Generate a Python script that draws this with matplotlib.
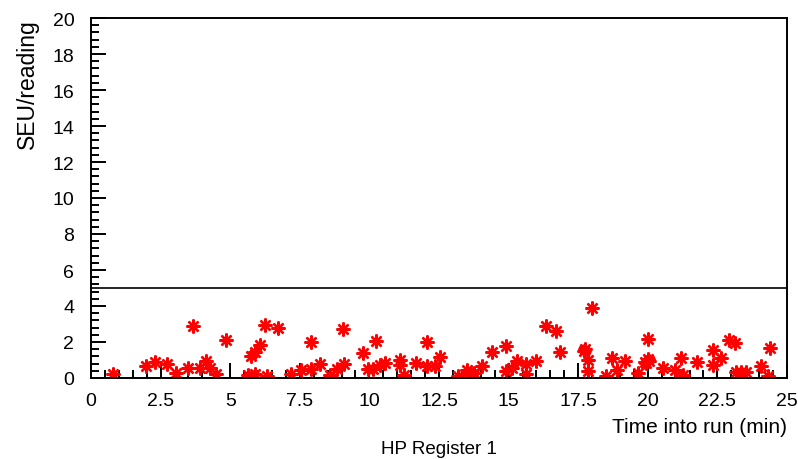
import numpy as np
import matplotlib.pyplot as plt
from matplotlib.ticker import MultipleLocator

plt.rcParams['font.family'] = ['Liberation Sans', 'DejaVu Sans']

# time of each reading (min) and SEU per reading
t_min = [0.78, 1.97, 2.31, 2.72, 3.05, 3.49, 3.65, 3.91, 4.12, 4.27, 4.48, 4.84,
         5.65, 5.73, 5.89, 5.89, 6.07, 6.25, 6.31, 6.70, 7.18, 7.54, 7.92, 7.92,
         8.22, 8.58, 8.82, 9.04, 9.08, 9.76, 9.96, 10.14, 10.23, 10.38, 10.57,
         11.10, 11.10, 11.24, 11.69, 12.08, 12.08, 12.35, 12.55, 13.19, 13.52,
         13.64, 13.76, 14.05, 14.42, 14.89, 14.89, 15.13, 15.31, 15.62, 15.64,
         16.00, 16.34, 16.70, 16.84, 17.71, 17.74, 17.86, 17.86, 17.98, 18.49,
         18.73, 18.91, 19.17, 19.65, 19.89, 20.01, 19.95, 20.05, 20.01, 20.53,
         20.97, 21.18, 21.27, 21.78, 22.35, 22.35, 22.62, 22.91, 23.15, 23.18,
         23.36, 23.54, 24.08, 24.32, 24.38]
seu = [0.22, 0.68, 0.87, 0.78, 0.28, 0.54, 2.90, 0.54, 0.96, 0.54, 0.22, 2.11,
       0.17, 1.24, 1.46, 0.22, 1.83, 2.96, 0.09, 2.78, 0.22, 0.46, 1.98, 0.50,
       0.78, 0.17, 0.50, 2.72, 0.78, 1.37, 0.50, 0.50, 2.04, 0.72, 0.83,
       1.02, 0.72, 0.17, 0.83, 1.98, 0.69, 0.65, 1.17, 0.13, 0.44,
       0.22, 0.26, 0.65, 1.43, 1.76, 0.41, 0.54, 0.96, 0.78, 0.22,
       0.96, 2.91, 2.59, 1.46, 1.52, 1.61, 1.02, 0.41, 3.87, 0.09,
       1.11, 0.44, 0.93, 0.28, 0.91, 1.06, 0.85, 0.95, 2.17, 0.56,
       0.46, 1.11, 0.17, 0.87, 1.56, 0.72, 1.11, 2.13, 1.94, 0.35,
       0.31, 0.35, 0.69, 0.13, 1.65]
threshold = 5

fig = plt.figure(figsize=(7.98, 4.6), dpi=100)
ax = fig.add_axes([91/798, 81/460, 696/798, 360/460])

ax.plot(t_min, seu, linestyle='none', marker=(8, 2, 0), color='red',
        markersize=10, markeredgewidth=1.7)
ax.axhline(threshold, color='black', lw=1.2)

ax.set_xlim(0, 25)
ax.set_ylim(0, 20)
ax.xaxis.set_major_locator(MultipleLocator(2.5))
ax.xaxis.set_minor_locator(MultipleLocator(0.5))
ax.yaxis.set_major_locator(MultipleLocator(2))
ax.yaxis.set_minor_locator(MultipleLocator(0.4))
ax.xaxis.set_major_formatter(lambda v, p: f'{v:g}')

ax.tick_params(which='both', direction='in', top=False, right=False,
               width=1.4, labelsize=14)
ax.tick_params(axis='x', which='major', length=11, pad=10)
ax.tick_params(axis='x', which='minor', length=6)
ax.tick_params(axis='y', which='major', length=11, pad=12)
ax.tick_params(axis='y', which='minor', length=6)
for s in ax.spines.values():
    s.set_linewidth(1.4)

fig.text(787/798, 1 - 428/460, 'Time into run (min)', ha='right', va='center', fontsize=15)
fig.text(439/798, 1 - 450/460, 'HP Register 1', ha='center', va='center', fontsize=13.5)
fig.text(27/798, 1 - 19/460, 'SEU/reading', rotation=90, ha='center', va='top', fontsize=16.5)

fig.savefig('out.png', dpi=100)
